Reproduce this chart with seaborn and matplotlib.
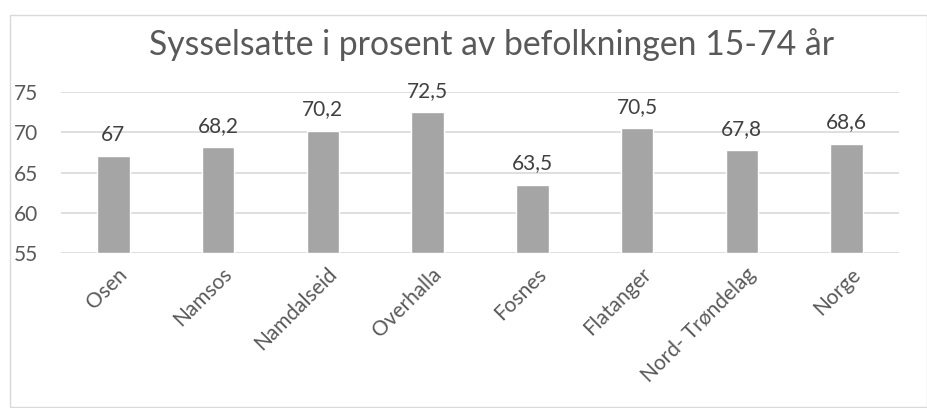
import matplotlib
matplotlib.use("Agg")
import matplotlib.pyplot as plt
import matplotlib.transforms as mtransforms
import seaborn as sns
import pandas as pd
from matplotlib.patches import Rectangle

categories = ["Osen", "Namsos", "Namdalseid", "Overhalla", "Fosnes", "Flatanger", "Nord- Trøndelag", "Norge"]
values = [67, 68.2, 70.2, 72.5, 63.5, 70.5, 67.8, 68.6]
labels = ["67", "68,2", "70,2", "72,5", "63,5", "70,5", "67,8", "68,6"]
yticks = [55, 60, 65, 70, 75]
title = "Sysselsatte i prosent av befolkningen 15-74 år"

sns.set_theme(style="white")
plt.rcParams['font.family'] = ['Lato', 'DejaVu Sans']

text_color = "#595959"
W, H = 928, 408
fig = plt.figure(figsize=(W / 100, H / 100), dpi=100)
ax = fig.add_axes([61 / W, 1 - 253 / H, (899 - 61) / W, (253 - 92) / H])

df = pd.DataFrame({"cat": categories, "val": values})
sns.barplot(data=df, x="cat", y="val", color="#A5A5A5", width=0.31, ax=ax, saturation=1)
for p in ax.patches:
    p.set_y(55)
    p.set_height(p.get_height() - 55)

ax.set_ylim(55, 75)
ax.set_yticks(yticks)
ax.set_yticklabels([str(t) for t in yticks], fontsize=15, color=text_color)
ax.set_xlim(-0.5, len(categories) - 0.5)
ax.set_xlabel("")
ax.set_ylabel("")
ax.set_xticks(range(len(categories)))
ax.set_xticklabels(categories, rotation=45, ha="right", rotation_mode="anchor",
                   fontsize=15, color=text_color)
ax.tick_params(axis="x", length=0, pad=8)
ax.tick_params(axis="y", length=0, pad=34)
for lbl in ax.get_yticklabels():
    lbl.set_horizontalalignment("left")
offset = mtransforms.ScaledTranslation(4 / 100, 0, fig.dpi_scale_trans)
for lbl in ax.get_xticklabels():
    lbl.set_transform(lbl.get_transform() + offset)
ax.grid(axis="y", color="#D9D9D9", linewidth=1.2)
ax.set_axisbelow(True)
for s in ax.spines.values():
    s.set_visible(False)

for i, (v, t) in enumerate(zip(values, labels)):
    ax.annotate(t, (i, v), xytext=(0, 8), textcoords="offset points",
                ha="center", va="bottom", fontsize=15, color="#404040")

fig.text(492 / W, 1 - 45 / H, title, ha="center", va="center", fontsize=24.3, color=text_color)

fig.patches.append(Rectangle((10 / W, 1 / H), (W - 11) / W, (H - 16) / H, transform=fig.transFigure,
                             fill=False, edgecolor="#D9D9D9", linewidth=1))

fig.savefig("out.png", dpi=100)
